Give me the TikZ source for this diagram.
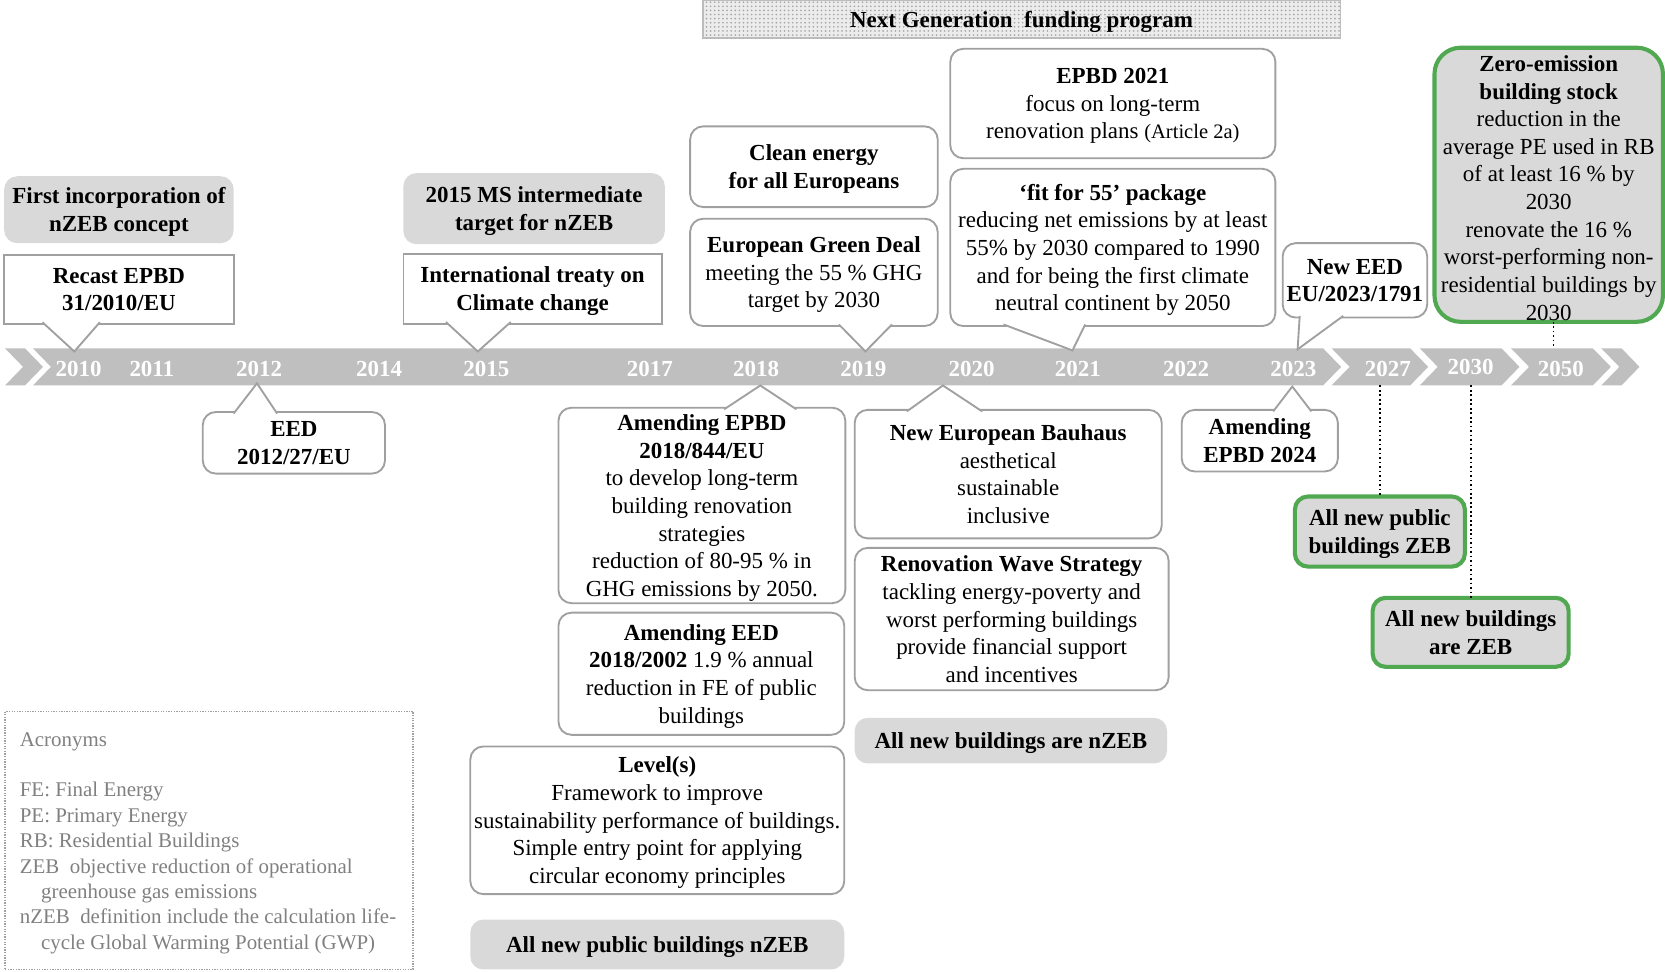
\documentclass[tikz,border=0pt]{standalone}
\usepackage{fontspec}
\setmainfont{Liberation Serif}
\usetikzlibrary{positioning,calc,patterns.meta}

\definecolor{bargray}{RGB}{191,191,191}
\definecolor{boxgray}{RGB}{217,217,217}
\definecolor{linegray}{RGB}{160,160,160}
\definecolor{zebgreen}{RGB}{80,168,80}
\definecolor{acrgray}{RGB}{128,128,128}

\begin{document}
\begin{tikzpicture}[x=0.01cm,y=-0.01cm]
        \fontsize{6.15}{7.4}\selectfont
        \tikzstyle{evt} = [rectangle,rounded corners=3.5pt,draw=linegray,line width=0.5pt,fill=white,align=center,inner xsep=1pt,inner ysep=0pt,outer sep=0pt,text depth=-1.8pt]
        \tikzstyle{evtsq} = [evt,sharp corners]
        \tikzstyle{goal} = [evt,draw=none,fill=boxgray,font=\bfseries]
        \tikzstyle{zeb} = [evt,draw=zebgreen,line width=1.1pt,fill=boxgray,font=\bfseries]
        \tikzstyle{yearlbl} = [text=white,font=\bfseries,inner sep=0pt]
        \tikzstyle{ptr} = [draw=linegray,line width=0.5pt,fill=white]
        \tikzstyle{dotline} = [line width=0.5pt,dash pattern=on 0.45pt off 0.75pt]
        \useasboundingbox (0,0) rectangle (1568,915);

        % funding banner
        \node[draw=linegray!70,line width=0.4pt,fill=gray!15,minimum width=6cm,minimum height=0.36cm,inner sep=0pt,outer sep=0pt,font=\bfseries,text depth=-1pt,
              postaction={pattern={Dots[distance=1.1pt,radius=0.25pt]},pattern color=gray!70}] (nextgen) at (962,18) {Next Generation\ \ funding program};

        % timeline bar
        \coordinate (bartop) at (0,328);
        \coordinate (barbot) at (0,363);
        \fill[bargray] (4.7,328) -- (23.5,328) -- ++(17,17.5) -- ++(-17,17.5) -- (4.7,363) -- ++(17,-17.5) -- cycle;
        \fill[bargray] (31,328) -- (1246,328) -- ++(17,17.5) -- ++(-17,17.5) -- (31,363) -- ++(17,-17.5) -- cycle;
        \fill[bargray] (1254,328) -- (1328,328) -- ++(17,17.5) -- ++(-17,17.5) -- (1254,363) -- ++(17,-17.5) -- cycle;
        \fill[bargray] (1337,328) -- (1414,328) -- ++(17,17.5) -- ++(-17,17.5) -- (1337,363) -- ++(17,-17.5) -- cycle;
        \fill[bargray] (1423,328) -- (1500,328) -- ++(17,17.5) -- ++(-17,17.5) -- (1423,363) -- ++(17,-17.5) -- cycle;
        \fill[bargray] (1508,328) -- (1527,328) -- ++(17,17.5) -- ++(-17,17.5) -- (1508,363) -- ++(17,-17.5) -- cycle;

        \node[yearlbl] (y2010) at (74,347.5) {2010};
        \node[yearlbl] (y2011) at (143,347.5) {2011};
        \node[yearlbl] (y2012) at (244,347.5) {2012};
        \node[yearlbl] (y2014) at (357,347.5) {2014};
        \node[yearlbl] (y2015) at (458,347.5) {2015};
        \node[yearlbl] (y2017) at (612,347.5) {2017};
        \node[yearlbl] (y2018) at (712,347.5) {2018};
        \node[yearlbl] (y2019) at (813,347.5) {2019};
        \node[yearlbl] (y2020) at (915,347.5) {2020};
        \node[yearlbl] (y2021) at (1015,347.5) {2021};
        \node[yearlbl] (y2022) at (1117,347.5) {2022};
        \node[yearlbl] (y2023) at (1218,347.5) {2023};
        \node[yearlbl] (y2027) at (1307,347.5) {2027};
        \node[yearlbl] (y2030) at (1385,346) {2030};
        \node[yearlbl] (y2050) at (1470,347.5) {2050};

        % early milestones
        \node[goal,minimum width=2.16cm,minimum height=0.63cm] (firstnzeb) at (112,197.5) {First incorporation of\\nZEB concept};
        \node[evtsq,minimum width=2.17cm,minimum height=0.65cm,font=\bfseries] (recast) at (112,272.5) {Recast EPBD\\31/2010/EU};
        \node[goal,minimum width=2.46cm,minimum height=0.67cm] (ms2015) at (503,196.5) {2015 MS intermediate\\target for nZEB};
        \node[evtsq,minimum width=2.43cm,minimum height=0.655cm,font=\bfseries] (treaty) at (501.5,272) {International treaty on\\Climate change};
        \node[evt,minimum width=1.715cm,minimum height=0.58cm,font=\bfseries] (eed) at (276.75,417) {EED\\2012/27/EU};

        % green deal years
        \node[evt,minimum width=2.33cm,minimum height=0.76cm,font=\bfseries] (clean) at (766.5,157) {Clean energy\\for all Europeans};
        \node[evt,minimum width=2.33cm,minimum height=1.01cm] (greendeal) at (766.5,256.5) {\textbf{European Green Deal}\\meeting the 55 \% GHG\\target by 2030};
        \node[evt,minimum width=3.06cm,minimum height=1.03cm] (epbd21) at (1048,97.5) {\textbf{EPBD 2021}\\focus on long-term\\renovation plans {\fontsize{5.5}{7.4}\selectfont(Article 2a)}};
        \node[evt,minimum width=3.06cm,minimum height=1.48cm] (fit55) at (1048,233) {\textbf{‘fit for 55’ package}\\reducing net emissions by at least\\55\% by 2030\ compared to 1990\\and for being the first climate\\neutral continent by 2050};
        \node[evt,minimum width=1.36cm,minimum height=0.70cm,font=\bfseries] (neweed) at (1276,264) {New EED\\EU/2023/1791};

        % zero emission stock
        \node[zeb,rounded corners=7pt,minimum width=2.15cm,minimum height=2.58cm] (zero) at (1458.5,174) {};
        \node[align=center,inner sep=0pt] (zerotxt) at (1458.5,177) {\textbf{Zero-emission}\\\textbf{building stock}\\reduction in the\\average PE used in RB\\of at least 16 \% by\\2030\\renovate the 16 \%\\worst-performing non-\\residential\ buildings by\\2030};

        % below the bar
        \node[evt,minimum width=2.70cm,minimum height=1.84cm] (amepbd) at (661,476) {\textbf{Amending EPBD}\\\textbf{2018/844/EU}\\to develop long-term\\building renovation\\strategies\\reduction of 80-95 \% in\\GHG emissions by 2050.};
        \node[evt,minimum width=2.69cm,minimum height=1.15cm] (ameed) at (660.5,634.5) {\textbf{Amending EED}\\\textbf{2018/2002} 1.9 \% annual\\reduction in FE of public\\buildings};
        \node[evt,minimum width=3.52cm,minimum height=1.39cm] (levels) at (619,772.5) {\textbf{Level(s)}\\Framework to improve\\sustainability\ performance of buildings.\\Simple entry point for applying\\circular\ economy principles};
        \node[goal,minimum width=3.52cm,minimum height=0.47cm] (allpubnzeb) at (619,889.5) {All new public buildings nZEB};
        \node[evt,minimum width=2.89cm,minimum height=1.21cm] (bauhaus) at (949.5,446.5) {\textbf{New European Bauhaus}\\aesthetical\\sustainable\\inclusive};
        \node[evt,minimum width=2.955cm,minimum height=1.34cm] (renowave) at (952.75,583) {\textbf{Renovation Wave Strategy}\\tackling\ energy-poverty and\\worst performing buildings\\provide financial\ support\\and incentives};
        \node[goal,minimum width=2.94cm,minimum height=0.43cm] (allnzeb) at (952,697.5) {All new buildings are nZEB};
        \node[evt,minimum width=1.47cm,minimum height=0.58cm,font=\bfseries] (amepbd24) at (1186.4,415) {Amending\\EPBD 2024};
        \node[zeb,minimum width=1.60cm,minimum height=0.66cm] (allpubzeb) at (1299.5,500.6) {All new public\\buildings ZEB};
        \node[zeb,minimum width=1.845cm,minimum height=0.65cm] (allzeb) at (1385,595.5) {All new buildings\\are ZEB};

        % acronyms
        \node[draw=linegray,line width=0.4pt,dash pattern=on 0.35pt off 0.35pt,minimum width=3.84cm,minimum height=2.43cm,inner sep=0pt,outer sep=0pt] (acrbox) at (197,791.5) {};
        \node[anchor=north west,align=left,inner sep=0pt,text=acrgray,font=\fontsize{5.6}{6.8}\selectfont] (acr) at (18,689) {Acronyms\\[6.8pt]FE: Final Energy\\PE: Primary Energy\\RB: Residential Buildings\\ZEB\ \ objective reduction of operational\\\hspace*{0.2cm}greenhouse gas\ emissions\\nZEB\ \ definition include the calculation life-\\\hspace*{0.2cm}cycle Global Warming Potential (GWP)};

        % pointers to the years
        \coordinate (p2010) at (70,331);
        \coordinate (p2015) at (450,331);
        \coordinate (p2012) at (242,361);
        \coordinate (p2019) at (815,331);
        \coordinate (p2021) at (1010,330);
        \coordinate (p2023a) at (1222,329);
        \coordinate (p2018) at (716,363);
        \coordinate (p2020) at (888,363);
        \coordinate (p2023b) at (1217,364);
        \filldraw[ptr] ($(recast.south)+(-72,-1.5)$) -- (p2010) -- ($(recast.south)+(-18,-1.5)$);
        \filldraw[ptr] ($(treaty.south)+(-81.5,-1.5)$) -- (p2015) -- ($(treaty.south)+(-20.5,-1.5)$);
        \filldraw[ptr] ($(eed.north)+(-56.75,1.5)$) -- (p2012) -- ($(eed.north)+(-15.75,1.5)$);
        \filldraw[ptr] ($(greendeal.south)+(23.5,-1.5)$) -- (p2019) -- ($(greendeal.south)+(73.5,-1.5)$);
        \filldraw[ptr] ($(fit55.south)+(-103,-1.5)$) -- (p2021) -- ($(fit55.south)+(-26,-1.5)$);
        \filldraw[ptr] ($(neweed.south)+(-52,-1.5)$) -- (p2023a) -- ($(neweed.south)+(-11,-1.5)$);
        \filldraw[ptr] ($(amepbd.north)+(21,1.5)$) -- (p2018) -- ($(amepbd.north)+(89,1.5)$);
        \filldraw[ptr] ($(bauhaus.north)+(-95.5,1.5)$) -- (p2020) -- ($(bauhaus.north)+(-24.5,1.5)$);
        \filldraw[ptr] ($(amepbd24.north)+(12.6,1.5)$) -- (p2023b) -- ($(amepbd24.north)+(48.6,1.5)$);

        % dotted links to the targets
        \draw[dotline] ($(zero.south)+(4.5,0)$) -- ($(zero.south |- bartop)+(4.5,0)$);
        \draw[dotline] (allpubzeb.north |- barbot) -- (allpubzeb.north);
        \draw[dotline] (allzeb.north |- barbot) -- (allzeb.north);
\end{tikzpicture}
\end{document}
